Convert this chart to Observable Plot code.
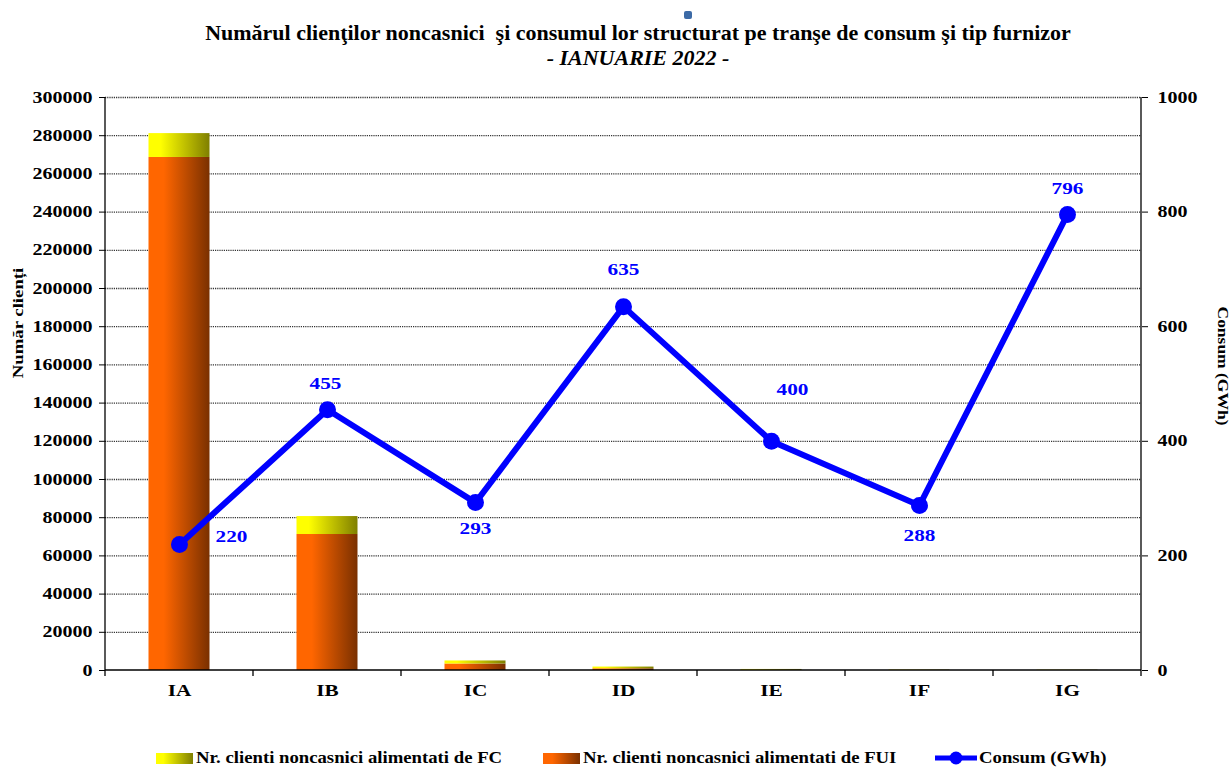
<!DOCTYPE html>
<html><head><meta charset="utf-8">
<script src="https://cdn.jsdelivr.net/npm/d3@7"></script>
<script src="https://cdn.jsdelivr.net/npm/@observablehq/plot@0.6"></script>
<style>
body{margin:0;background:#fff;font-family:"Liberation Serif","Times New Roman",serif;}
#wrap{width:1232px;height:769px;position:relative;overflow:hidden;}
#title{box-sizing:border-box;height:80px;padding-top:20px;padding-left:44px;text-align:center;font-weight:bold;font-size:22px;line-height:25px;color:#000;}
#title .sub{font-style:italic;}
#icon{position:absolute;left:684px;top:11px;width:8px;height:8px;background:#3c6aa6;border-radius:2px;}
#chart svg{display:block;}
.leg{position:absolute;top:749px;font-weight:bold;font-size:16px;line-height:18px;display:flex;align-items:center;white-space:nowrap;}
.leg .t{display:inline-block;transform:scaleX(1.17);transform-origin:left center;}
.sw{display:inline-block;width:37px;height:11px;margin-right:3px;}
</style></head>
<body>
<div id="wrap">
  <div id="icon"></div>
  <div id="title">Numărul clienţilor noncasnici&nbsp; şi consumul lor structurat pe tranşe de consum şi tip furnizor<br><span class="sub">- IANUARIE 2022 -</span></div>
  <div id="chart"></div>
  <div class="leg" style="left:156px"><span class="sw" style="background:linear-gradient(to right,#ffff00 0%,#ffff00 20%,#7f7f00 100%)"></span><span class="t">Nr. clienti noncasnici alimentati de FC</span></div>
  <div class="leg" style="left:543px"><span class="sw" style="background:linear-gradient(to right,#ff6600 0%,#ff6600 25%,#7a3000 100%)"></span><span class="t">Nr. clienti noncasnici alimentati de FUI</span></div>
  <div class="leg" style="left:934px"><svg width="44" height="16" style="margin-right:1px"><line x1="1" x2="43" y1="8" y2="8" stroke="#0000ff" stroke-width="5"/><circle cx="22" cy="8" r="6.5" fill="#0000ff"/></svg><span class="t">Consum (GWh)</span></div>
</div>
<script>
// ---- data ----
const categories = ["IA", "IB", "IC", "ID", "IE", "IF", "IG"];
const clientiFUI = [268600, 71200, 3400, 900, 100, 50, 30];
const clientiFC  = [12500, 9400, 1600, 900, 450, 200, 150];
const consumGWh  = [220, 455, 293, 635, 400, 288, 796];
const leftTicks  = [0, 20000, 40000, 60000, 80000, 100000, 120000, 140000, 160000, 180000, 200000, 220000, 240000, 260000, 280000, 300000];
const rightTicks = [0, 200, 400, 600, 800, 1000];

// ---- build ----
const leftMax = 300000, rightMax = 1000;
const k = leftMax / rightMax; // maps right axis onto left scale
const rows = categories.map((c, i) => ({cat: c, fui: clientiFUI[i], fc: clientiFC[i], consum: consumGWh[i]}));

// label offsets (pixels) like in the original
const labelOffset = {IA: [52, -8], IB: [-2, -26], IC: [0, 26], ID: [0, -37], IE: [21, -52], IF: [0, 30], IG: [0, -26]};

const width = 1232, height = 650;
const mL = 105, mR = 91, mT = 17, mB = 60;
const bandW = (width - mL - mR) / categories.length;
const barW = 61;
const inset = (bandW - barW) / 2;
const textStretch = 1.25;

function defs() {
  const d = d3.create("svg:defs");
  const g1 = d.append("linearGradient").attr("id", "gFUI").attr("x1", 0).attr("x2", 1).attr("y1", 0).attr("y2", 0);
  g1.append("stop").attr("offset", "0%").attr("stop-color", "#ff6600");
  g1.append("stop").attr("offset", "25%").attr("stop-color", "#ff6600");
  g1.append("stop").attr("offset", "100%").attr("stop-color", "#7a3000");
  const g2 = d.append("linearGradient").attr("id", "gFC").attr("x1", 0).attr("x2", 1).attr("y1", 0).attr("y2", 0);
  g2.append("stop").attr("offset", "0%").attr("stop-color", "#ffff00");
  g2.append("stop").attr("offset", "20%").attr("stop-color", "#ffff00");
  g2.append("stop").attr("offset", "100%").attr("stop-color", "#7f7f00");
  return d.node();
}

function frameLines(index, scales, values, dims) {
  const g = d3.create("svg:g").attr("stroke", "#000").attr("stroke-width", 1.3).attr("fill", "none");
  const x0 = dims.marginLeft, x1 = dims.width - dims.marginRight;
  const y0 = dims.marginTop, y1 = dims.height - dims.marginBottom;
  g.append("line").attr("x1", x0).attr("x2", x0).attr("y1", y0).attr("y2", y1);
  g.append("line").attr("x1", x1).attr("x2", x1).attr("y1", y0).attr("y2", y1);
  g.append("line").attr("x1", x0).attr("x2", x1).attr("y1", y1).attr("y2", y1);
  const bounds = categories.map(c => scales.x(c)).concat([x1]);
  for (const bx of bounds) g.append("line").attr("x1", bx).attr("x2", bx).attr("y1", y1).attr("y2", y1 + 6);
  return g.node();
}

const labelMarks = categories.map(c => Plot.text(rows.filter(r => r.cat === c), {
  x: "cat", y: d => d.consum * k, text: d => String(d.consum),
  dx: labelOffset[c][0], dy: labelOffset[c][1],
  fill: "#0000ff", fontSize: 17, fontWeight: "bold"
}));

const chart = Plot.plot({
  width, height,
  marginLeft: mL, marginRight: mR, marginTop: mT, marginBottom: mB,
  style: {fontFamily: "'Liberation Serif','Times New Roman',serif", fontWeight: "bold", fontSize: "16px", color: "#000", background: "#fff"},
  x: {type: "band", domain: categories, padding: 0, axis: null},
  y: {domain: [0, leftMax], axis: null},
  marks: [
    defs,
    Plot.gridY(leftTicks.filter(t => t > 0), {stroke: "#000", strokeOpacity: 0.8, strokeWidth: 1.3, strokeDasharray: "1.2,1"}),
    Plot.barY(rows, {x: "cat", y1: 0, y2: "fui", fill: "url(#gFUI)", insetLeft: inset, insetRight: inset}),
    Plot.barY(rows, {x: "cat", y1: "fui", y2: d => d.fui + d.fc, fill: "url(#gFC)", insetLeft: inset, insetRight: inset}),
    frameLines,
    Plot.axisY(leftTicks, {anchor: "left", tickSize: 6, tickPadding: 7, tickFormat: d => String(d), fontSize: 16, fontWeight: "bold", label: null}),
    Plot.axisY(rightTicks.map(v => v * k), {anchor: "right", tickSize: 6, tickPadding: 10, tickFormat: d => String(Math.round(d / k)), fontSize: 16, fontWeight: "bold", label: null}),
    Plot.axisX(categories, {tickSize: 0, tickPadding: 13, fontSize: 17, fontWeight: "bold", label: null}),
    Plot.text(["Număr clienți"], {frameAnchor: "left", textAnchor: "middle", dx: -87, dy: -61, rotate: -90, fontSize: 15, fontWeight: "bold"}),
    Plot.text(["Consum (GWh)"], {frameAnchor: "right", textAnchor: "middle", dx: 81, dy: -18, rotate: 90, fontSize: 14, fontWeight: "bold"}),
    Plot.line(rows, {x: "cat", y: d => d.consum * k, stroke: "#0000ff", strokeWidth: 6}),
    Plot.dot(rows, {x: "cat", y: d => d.consum * k, r: 8.5, fill: "#0000ff", stroke: "none"}),
    ...labelMarks
  ]
});

// widen the SVG text horizontally like the original (stretched Excel export):
// append a horizontal scale to each text's own positioning transform
chart.querySelectorAll("text").forEach(t => {
  const tr = t.getAttribute("transform");
  if (tr) t.setAttribute("transform", `${tr} scale(${textStretch},1)`);
});

document.getElementById("chart").appendChild(chart);
</script>
</body></html>
